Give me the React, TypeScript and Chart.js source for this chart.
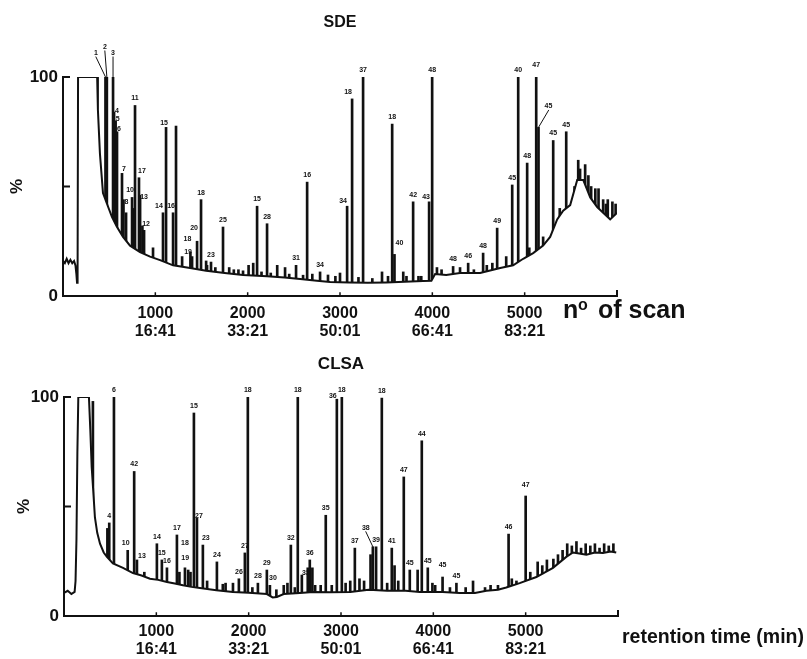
import React, { useEffect, useRef } from 'react';
import { Chart, registerables } from 'chart.js';

Chart.register(...registerables);

const INK = '#111111';
const FAMILY = '"Liberation Sans", Arial, Helvetica, sans-serif';

// ---- shared axis data ----
const X_TICK_SCANS = [1000, 2000, 3000, 4000, 5000];
const X_TICK_TIMES = ['16:41', '33:21', '50:01', '66:41', '83:21'];
const Y_TICKS = [0, 50, 100];

// ---- SDE chromatogram ----
const SDE_BASE_SCANS = [0, 20, 40, 60, 80, 100, 120, 135, 145, 152, 158, 163, 370, 378, 400, 433, 477, 531, 585, 650, 726, 834, 943, 1051, 1192, 1376, 1550, 1750, 1950, 2210, 2400, 2568, 2750, 2893, 3100, 3300, 3500, 3700, 3900, 3990, 4030, 4150, 4300, 4518, 4735, 4875, 4984, 5092, 5200, 5276, 5352, 5417, 5493, 5569, 5634, 5710, 5785, 5850, 5926, 6000];
const SDE_BASE_VALUES = [16, 15, 17, 15, 16.5, 15, 16, 14, 10, 6, 9, 100, 100, 85, 65, 47, 42, 36, 31.5, 27, 23, 20, 18, 16.4, 14, 12.8, 11.5, 10.5, 9.6, 9, 8.4, 7.8, 7, 6.4, 6.2, 6, 6.2, 6.5, 6.8, 7, 10, 9.6, 10.5, 10.5, 12.8, 14, 17, 19.6, 23, 27, 35, 39, 41.5, 53, 53, 45, 40.6, 38, 35, 38];
const SDE_PEAK_SCANS = [460, 475, 542, 553, 570, 585, 639, 655, 683, 748, 765, 780, 823, 835, 860, 878, 975, 1083, 1116, 1192, 1224, 1290, 1380, 1398, 1452, 1495, 1550, 1603, 1733, 1800, 1900, 2010, 2060, 2102, 2210, 2320, 2405, 2524, 2644, 2700, 2784, 2870, 3000, 3077, 3131, 3250, 3455, 3565, 3590, 3685, 3792, 3880, 3965, 3998, 4050, 4225, 4388, 4550, 4590, 4702, 4865, 4930, 5027, 5125, 5150, 5309, 5450, 5580, 5655, 5765, 5800, 5850, 5950];
const SDE_PEAK_VALUES = [100, 100, 100, 84, 80, 75, 56, 44, 38, 45, 40, 87, 54, 46, 32, 30, 22, 38, 77, 38, 77.6, 18, 20, 18, 25, 44, 16, 15.5, 31.5, 13, 12, 14, 15, 41, 33, 14, 13, 14, 52, 10, 11, 9.6, 10.5, 41, 90, 100, 11, 78.5, 19, 11, 43, 9, 43, 100, 13, 13.5, 15, 19.6, 14, 31, 50.7, 100, 60.7, 100, 77, 71, 75, 62, 60, 49, 49, 44, 43];
const SDE_PEAK_LABELS = ['1', '2', '3', '4', '5', '6', '7', '8', '', '10', '', '11', '17', '13', '', '12', '', '14', '15', '16', '', '', '18', '19', '20', '18', '', '23', '25', '', '', '', '', '15', '28', '', '', '31', '16', '', '34', '', '', '34', '18', '37', '', '18', '40', '', '42', '', '43', '48', '', '48', '46', '48', '', '49', '45', '40', '48', '47', '45', '45', '45', '', '', '', '', '', ''];
// unlabelled small spikes riding on the SDE baseline
const SDE_MINOR_SCANS = [1560, 1650, 1850, 1950, 2150, 2250, 2450, 2600, 2950, 3200, 3350, 3520, 3720, 3850, 4100, 4300, 4450, 4650, 4800, 5050, 5200, 5380, 5540, 5600, 5690, 5720, 5880, 5900, 5985];
const SDE_MINOR_VALUES = [14, 13, 12, 11.5, 11, 10.5, 10, 9.5, 9, 8.5, 8, 9, 9, 9, 12, 13, 12, 15, 18, 22, 27, 40, 50, 58, 55, 50, 42, 44, 42];

// ---- CLSA chromatogram ----
const CLSA_BASE_SCANS = [0, 40, 80, 115, 125, 135, 145, 155, 270, 285, 300, 320, 335, 360, 390, 430, 465, 530, 639, 747, 840, 931, 1020, 1115, 1200, 1288, 1380, 1472, 1650, 1829, 2000, 2197, 2260, 2305, 2380, 2554, 2700, 2879, 3100, 3300, 3500, 3700, 3853, 4100, 4286, 4450, 4575, 4700, 4790, 4935, 5116, 5296, 5440, 5512, 5580, 5657, 5750, 5837, 5920, 5981];
const CLSA_BASE_VALUES = [10.5, 11.5, 10, 11, 16, 35, 75, 100, 100, 85, 68, 55, 45, 38, 33, 29, 27, 24, 22, 19.6, 18.5, 17, 16.5, 15.5, 14.8, 14, 13.3, 12.8, 11.8, 11, 10.6, 10, 8.5, 8.7, 10, 10.5, 11, 10.8, 11, 12, 11.5, 11.5, 11, 11, 10.5, 10.5, 11.5, 12, 13, 15, 17.8, 22, 27, 29, 28.5, 28, 29, 28.8, 29.5, 29];
const CLSA_PEAK_SCANS = [313, 470, 490, 541, 690, 760, 790, 870, 1006, 1060, 1115, 1223, 1250, 1310, 1345, 1370, 1407, 1440, 1504, 1656, 1750, 1830, 1894, 1959, 1991, 2100, 2197, 2230, 2380, 2420, 2457, 2532, 2576, 2640, 2662, 2690, 2780, 2835, 2955, 3009, 3100, 3150, 3200, 3320, 3345, 3380, 3442, 3550, 3580, 3680, 3745, 3830, 3875, 3940, 4020, 4100, 4250, 4430, 4560, 4700, 4815, 4900, 5000, 5130, 5230, 5350, 5450, 5550, 5650, 5750, 5850, 5950];
const CLSA_PEAK_VALUES = [98, 40, 42.5, 100, 30, 66, 25.6, 20, 33, 25.6, 22, 37, 20, 22, 21, 20, 92.7, 44.7, 32.4, 24.7, 15, 15, 17, 28.8, 100, 15, 21, 14, 14, 15, 32.4, 100, 18.7, 22, 25.6, 22, 14, 46, 99, 100, 16, 31, 17, 28, 31.6, 31.6, 99.5, 31, 23, 63.5, 21, 21, 80, 22, 14, 17.8, 15, 16, 13, 14, 37.4, 16, 54.8, 24.7, 25.6, 28, 33, 34, 33, 33, 33, 33];
const CLSA_PEAK_LABELS = ['', '', '4', '6', '10', '42', '13', '', '14', '15', '16', '17', '', '18', '19', '', '15', '27', '23', '24', '', '', '26', '27', '18', '28', '29', '30', '', '', '32', '18', '33', '', '36', '', '', '35', '36', '18', '', '37', '', '', '38', '39', '18', '41', '', '47', '45', '', '44', '45', '', '45', '45', '', '', '', '46', '', '47', '', '', '', '', '', '', '', '', ''];
// unlabelled small spikes riding on the CLSA baseline
const CLSA_MINOR_SCANS = [1550, 1720, 2040, 2300, 2500, 2720, 2900, 3050, 3250, 3500, 3620, 3990, 4180, 4350, 4620, 4850, 5050, 5180, 5300, 5400, 5500, 5600, 5700, 5800, 5900];
const CLSA_MINOR_VALUES = [16, 14.5, 13, 12, 13, 14, 14, 15, 16, 15, 16, 15, 13, 13, 14, 17, 20, 23, 26, 30, 32, 31, 32, 31, 32];

type Offset = { dx?: number; dy?: number; leader?: boolean };

// label placement tweaks (pixels), keyed by peak scan
const SDE_LABEL_OFFSETS: Record<number, Offset> = {
  460: { dx: -9.5, dy: -17, leader: true },
  475: { dx: -2, dy: -23, leader: true },
  542: { dx: 0, dy: -17, leader: true },
  553: { dx: 3, dy: 6 },
  570: { dx: 2, dy: 5 },
  585: { dx: 2, dy: 4 },
  639: { dx: 2, dy: 3 },
  655: { dx: 3, dy: 9 },
  748: { dx: -2 },
  823: { dx: 3 },
  835: { dx: 4, dy: 9 },
  878: { dx: 2, dy: 1 },
  1083: { dx: -4 },
  1116: { dx: -2, dy: 3 },
  1192: { dx: -2 },
  1380: { dx: -3, dy: -6 },
  1398: { dx: -4, dy: 2 },
  1452: { dx: -3, dy: -6 },
  3077: { dx: -4, dy: 2 },
  3131: { dx: -4 },
  3590: { dx: 5, dy: -4 },
  3965: { dx: -3, dy: 2 },
  5125: { dy: -5 },
  5150: { dx: 10, dy: -14, leader: true },
};

const CLSA_LABEL_OFFSETS: Record<number, Offset> = {
  690: { dx: -2 },
  790: { dx: 5, dy: 3 },
  1310: { dy: -18 },
  1345: { dx: -3, dy: -5 },
  1440: { dx: 2, dy: 5 },
  1504: { dx: 3 },
  2230: { dx: 3 },
  2576: { dx: 4, dy: 5 },
  2955: { dx: -4, dy: 4 },
  3345: { dx: -7, dy: -12, leader: true },
  4100: { dy: -5 },
  5000: { dy: -4 },
};

interface PanelCfg {
  name: string;
  height: number;
  baseScans: number[];
  baseValues: number[];
  peakScans: number[];
  peakValues: number[];
  peakLabels: string[];
  minorScans: number[];
  minorValues: number[];
  offsets: Record<number, Offset>;
  title: string;
  titleSize: number;
  titlePadTop: number;
  titlePadBottom: number;
  yWidth: number;
  xHeight: number;
  rightPad: number;
  percentPad: number;
  tickPad: number;
  drawAxisTitle: (ctx: CanvasRenderingContext2D) => void;
}

const toPoints = (xs: number[], ys: number[]) => xs.map((x, i) => ({ x, y: ys[i] }));

function makeOverlay(cfg: PanelCfg) {
  return {
    id: 'overlay_' + cfg.name,
    afterDatasetsDraw(chart: any) {
      const { ctx, chartArea: a, scales } = chart;
      const xs = scales.x;
      const ys = scales.y;
      ctx.save();
      ctx.strokeStyle = INK;
      ctx.fillStyle = INK;
      ctx.lineWidth = 2;
      ctx.lineCap = 'square';
      // x axis with hook at end
      ctx.beginPath();
      ctx.moveTo(a.left, a.bottom);
      ctx.lineTo(a.right, a.bottom);
      ctx.lineTo(a.right, a.bottom - 5);
      ctx.stroke();
      ctx.lineWidth = 1.5;
      for (const v of X_TICK_SCANS) {
        const px = xs.getPixelForValue(v);
        ctx.beginPath();
        ctx.moveTo(px, a.bottom);
        ctx.lineTo(px, a.bottom - 3);
        ctx.stroke();
      }
      // y axis with inward ticks
      ctx.lineWidth = 2;
      ctx.beginPath();
      ctx.moveTo(a.left, a.bottom);
      ctx.lineTo(a.left, ys.getPixelForValue(100));
      ctx.stroke();
      for (const v of [50, 100]) {
        const py = ys.getPixelForValue(v);
        ctx.beginPath();
        ctx.moveTo(a.left, py);
        ctx.lineTo(a.left + 6, py);
        ctx.stroke();
      }
      // peak labels
      ctx.font = 'bold 7px ' + FAMILY;
      ctx.textAlign = 'center';
      ctx.textBaseline = 'middle';
      ctx.lineWidth = 1;
      cfg.peakScans.forEach((s, i) => {
        const text = cfg.peakLabels[i];
        if (!text) return;
        const px = xs.getPixelForValue(s);
        const top = ys.getPixelForValue(cfg.peakValues[i]);
        const o = cfg.offsets[s] || {};
        const lx = px + (o.dx || 0);
        const ly = top - 7 + (o.dy || 0);
        ctx.fillText(text, lx, ly);
        if (o.leader) {
          ctx.beginPath();
          ctx.moveTo(lx, ly + 4);
          ctx.lineTo(px, top);
          ctx.stroke();
        }
      });
      ctx.restore();
    },
    afterDraw(chart: any) {
      const ctx = chart.ctx as CanvasRenderingContext2D;
      ctx.save();
      ctx.fillStyle = INK;
      cfg.drawAxisTitle(ctx);
      ctx.restore();
    },
  };
}

function buildConfig(cfg: PanelCfg): any {
  return {
    type: 'line',
    data: {
      datasets: [
        {
          type: 'line',
          data: toPoints(cfg.baseScans, cfg.baseValues),
          borderColor: INK,
          borderWidth: 2,
          pointRadius: 0,
          tension: 0,
          fill: 'origin',
          backgroundColor: '#ffffff',
          order: 0,
        },
        {
          type: 'bar',
          data: toPoints(cfg.peakScans, cfg.peakValues).concat(toPoints(cfg.minorScans, cfg.minorValues)),
          backgroundColor: INK,
          borderWidth: 0,
          barThickness: 2,
          grouped: false,
          order: 1,
        },
      ],
    },
    options: {
      animation: false,
      responsive: false,
      devicePixelRatio: 1,
      events: [],
      layout: { padding: { left: 0, right: cfg.rightPad, top: 0, bottom: 0 } },
      plugins: {
        legend: { display: false },
        tooltip: { enabled: false },
        title: {
          display: true,
          text: cfg.title,
          fullSize: false,
          color: INK,
          font: { family: FAMILY, size: cfg.titleSize, weight: 'bold', lineHeight: 1.2 },
          padding: { top: cfg.titlePadTop, bottom: cfg.titlePadBottom },
        },
      },
      scales: {
        x: {
          type: 'linear',
          min: 0,
          max: 6000,
          offset: false,
          grid: { display: false, drawTicks: false },
          border: { display: false },
          ticks: {
            autoSkip: false,
            maxRotation: 0,
            padding: cfg.tickPad,
            color: INK,
            font: { family: FAMILY, size: 16, weight: 'bold', lineHeight: 1.1 },
            callback: (value: number) => {
              const i = X_TICK_SCANS.indexOf(value);
              return i >= 0 ? [String(value), X_TICK_TIMES[i]] : '';
            },
          },
          afterBuildTicks: (scale: any) => {
            scale.ticks = X_TICK_SCANS.map((v) => ({ value: v }));
          },
          afterFit: (scale: any) => {
            scale.height = cfg.xHeight;
          },
        },
        y: {
          min: 0,
          max: 100,
          grid: { display: false, drawTicks: false },
          border: { display: false },
          ticks: {
            padding: 5,
            color: INK,
            font: { family: FAMILY, size: 17, weight: 'bold' },
            callback: (value: number) => (value === 50 ? '' : String(value)),
          },
          afterBuildTicks: (scale: any) => {
            scale.ticks = Y_TICKS.map((v) => ({ value: v }));
          },
          title: {
            display: true,
            text: '%',
            color: INK,
            font: { family: FAMILY, size: 17, weight: 'bold', lineHeight: 1.2 },
            padding: { top: cfg.percentPad, bottom: 0 },
          },
          afterFit: (scale: any) => {
            scale.width = cfg.yWidth;
          },
        },
      },
    },
    plugins: [makeOverlay(cfg)],
  };
}

const SDE_CFG: PanelCfg = {
  name: 'sde',
  height: 345,
  baseScans: SDE_BASE_SCANS,
  baseValues: SDE_BASE_VALUES,
  peakScans: SDE_PEAK_SCANS,
  peakValues: SDE_PEAK_VALUES,
  peakLabels: SDE_PEAK_LABELS,
  minorScans: SDE_MINOR_SCANS,
  minorValues: SDE_MINOR_VALUES,
  offsets: SDE_LABEL_OFFSETS,
  title: 'SDE',
  titleSize: 16,
  titlePadTop: 13.4,
  titlePadBottom: 44.4,
  yWidth: 63,
  xHeight: 49,
  rightPad: 190,
  percentPad: 6.8,
  tickPad: 8.7,
  drawAxisTitle: (ctx) => {
    ctx.textAlign = 'left';
    ctx.textBaseline = 'alphabetic';
    ctx.font = 'bold 25px ' + FAMILY;
    ctx.fillText('n', 563, 318);
    ctx.font = 'bold 16px ' + FAMILY;
    ctx.fillText('o', 578, 310);
    ctx.font = 'bold 25px ' + FAMILY;
    ctx.fillText('of scan', 598, 318);
  },
};

const CLSA_CFG: PanelCfg = {
  name: 'clsa',
  height: 319,
  baseScans: CLSA_BASE_SCANS,
  baseValues: CLSA_BASE_VALUES,
  peakScans: CLSA_PEAK_SCANS,
  peakValues: CLSA_PEAK_VALUES,
  peakLabels: CLSA_PEAK_LABELS,
  minorScans: CLSA_MINOR_SCANS,
  minorValues: CLSA_MINOR_VALUES,
  offsets: CLSA_LABEL_OFFSETS,
  title: 'CLSA',
  titleSize: 17,
  titlePadTop: 13.8,
  titlePadBottom: 22.8,
  yWidth: 64,
  xHeight: 43,
  rightPad: 189,
  percentPad: 14.3,
  tickPad: 7.2,
  drawAxisTitle: (ctx) => {
    ctx.textAlign = 'left';
    ctx.textBaseline = 'alphabetic';
    ctx.font = 'bold 19.5px ' + FAMILY;
    ctx.fillText('retention time (min)', 622, 303);
  },
};

function Panel({ cfg, top }: { cfg: PanelCfg; top: number }) {
  const ref = useRef<HTMLCanvasElement>(null);
  useEffect(() => {
    if (!ref.current) return;
    const chart = new Chart(ref.current, buildConfig(cfg));
    return () => chart.destroy();
  }, [cfg]);
  return (
    <canvas
      ref={ref}
      width={807}
      height={cfg.height}
      style={{ position: 'absolute', left: 0, top, width: 807, height: cfg.height, display: 'block' }}
    />
  );
}

export default function App() {
  return (
    <div style={{ position: 'absolute', left: 0, top: 0, width: 807, height: 659, background: '#ffffff', overflow: 'hidden' }}>
      <Panel cfg={SDE_CFG} top={0} />
      <Panel cfg={CLSA_CFG} top={340} />
    </div>
  );
}
